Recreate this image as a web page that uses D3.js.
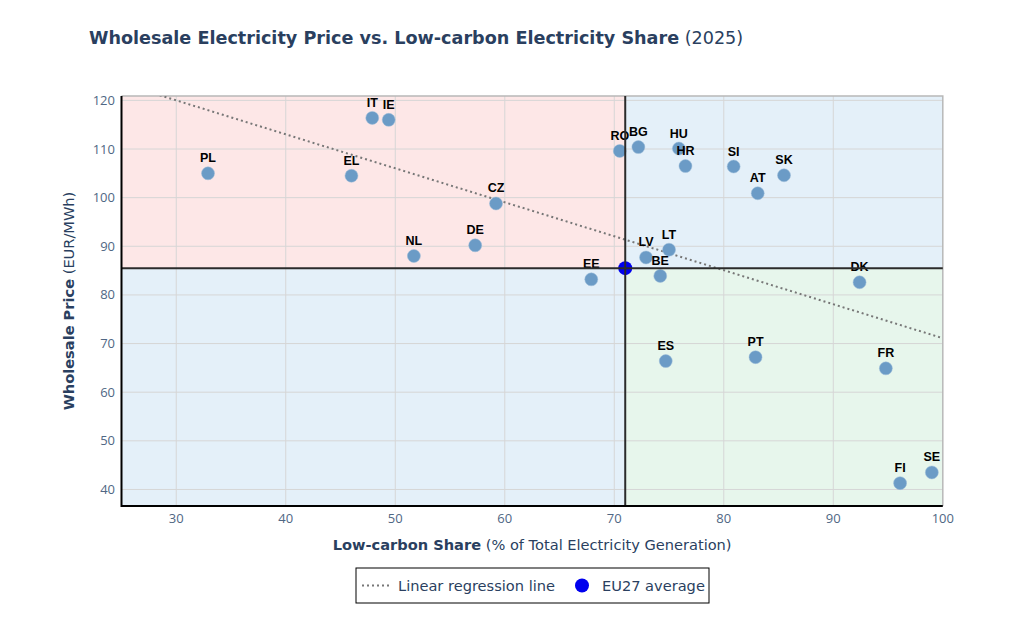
<!DOCTYPE html>
<html>
<head>
<meta charset="utf-8">
<script src="https://cdn.jsdelivr.net/npm/d3@7"></script>
<style>
  body { margin: 0; background: #fff; }
  svg text { font-family: "DejaVu Sans", Verdana, sans-serif; }
</style>
</head>
<body>
<div id="chart"></div>
<script>
// Country codes, low-carbon share (%) and wholesale price (EUR/MWh)
const countries = ["PL", "EL", "IT", "IE", "NL", "DE", "CZ", "EE", "RO", "BG", "HU", "HR", "LV", "LT", "BE",
    "SI", "AT", "SK", "DK", "ES", "PT", "FR", "FI", "SE"];
const lowCarbon = [32.9, 46.0, 47.9, 49.4, 51.7, 57.3, 59.2, 67.9, 70.5, 72.2, 75.9, 76.5, 72.9, 75.0, 74.2,
    80.9, 83.1, 85.5, 92.4, 74.7, 82.9, 94.8, 96.1, 99.0];
const price = [105.0, 104.5, 116.4, 116.0, 88.0, 90.2, 98.8, 83.2, 109.6, 110.4, 110.1, 106.5, 87.7, 89.3, 83.9,
    106.4, 100.9, 104.6, 82.6, 66.4, 67.2, 64.9, 41.3, 43.5];

// EU27 average and regression line endpoints
const euAvg = { x: 71.0, y: 85.5 };
const regLine = [{ x: 25, y: 123.5 }, { x: 100, y: 71.1 }];

const xTicks = [30, 40, 50, 60, 70, 80, 90, 100];
const yTicks = [40, 50, 60, 70, 80, 90, 100, 110, 120];

const W = 1018, H = 624;
const plot = { left: 121.5, right: 942.8, top: 96, bottom: 506 };

const x = d3.scaleLinear().domain([25, 100]).range([plot.left, plot.right]);
const y = d3.scaleLinear().domain([36.6, 120.9]).range([plot.bottom, plot.top]);

const svg = d3.select("#chart").append("svg")
    .attr("width", W)
    .attr("height", H);

// Title
const title = svg.append("text")
    .attr("x", 89)
    .attr("y", 44)
    .style("font-size", "17.6px")
    .style("fill", "#2a3f5f");
title.append("tspan").style("font-weight", "bold").text("Wholesale Electricity Price vs. Low-carbon Electricity Share");
title.append("tspan").text(" (2025)");

svg.append("clipPath").attr("id", "clip")
    .append("rect")
    .attr("x", plot.left).attr("y", plot.top)
    .attr("width", plot.right - plot.left).attr("height", plot.bottom - plot.top);

// Quadrant backgrounds
const quads = [
    { x0: 25, x1: euAvg.x, y0: euAvg.y, y1: 120.9, color: "#fde7e7" },
    { x0: euAvg.x, x1: 100, y0: euAvg.y, y1: 120.9, color: "#e4f0f9" },
    { x0: 25, x1: euAvg.x, y0: 36.6, y1: euAvg.y, color: "#e4f0f9" },
    { x0: euAvg.x, x1: 100, y0: 36.6, y1: euAvg.y, color: "#e7f6ec" }
];
svg.append("g").selectAll("rect")
    .data(quads)
    .enter().append("rect")
    .attr("x", d => x(d.x0))
    .attr("y", d => y(d.y1))
    .attr("width", d => x(d.x1) - x(d.x0))
    .attr("height", d => y(d.y0) - y(d.y1))
    .attr("fill", d => d.color);

// Gridlines
const grid = svg.append("g");
grid.selectAll(".gx").data(xTicks.filter(t => t < 100)).enter().append("line")
    .attr("x1", d => x(d)).attr("x2", d => x(d))
    .attr("y1", plot.top).attr("y2", plot.bottom)
    .attr("stroke", "#d6d6d6").attr("stroke-width", 1);
grid.selectAll(".gy").data(yTicks).enter().append("line")
    .attr("x1", plot.left).attr("x2", plot.right)
    .attr("y1", d => y(d)).attr("y2", d => y(d))
    .attr("stroke", "#d6d6d6").attr("stroke-width", 1);

// Mirror border (top / right)
svg.append("path")
    .attr("d", `M${plot.left},${plot.top}H${plot.right}V${plot.bottom}`)
    .attr("fill", "none")
    .attr("stroke", "#b8b8b8")
    .attr("stroke-width", 1.5);

// Regression line
svg.append("line")
    .attr("clip-path", "url(#clip)")
    .attr("x1", x(regLine[0].x)).attr("y1", y(regLine[0].y))
    .attr("x2", x(regLine[1].x)).attr("y2", y(regLine[1].y))
    .attr("stroke", "#777")
    .attr("stroke-width", 2)
    .attr("stroke-dasharray", "2,3");

// Country points
const pts = countries.map((c, i) => ({ c: c, x: lowCarbon[i], y: price[i] }));
svg.append("g").selectAll("circle")
    .data(pts)
    .enter().append("circle")
    .attr("cx", d => x(d.x))
    .attr("cy", d => y(d.y))
    .attr("r", 6.5)
    .attr("fill", "#6b9bc6")
    .attr("stroke", "#9dbcd9")
    .attr("stroke-width", 0.5);

svg.append("g").selectAll("text")
    .data(pts)
    .enter().append("text")
    .attr("x", d => x(d.x))
    .attr("y", d => y(d.y) - 11)
    .attr("text-anchor", "middle")
    .style("font-family", "'Liberation Sans', Arial, sans-serif")
    .style("font-weight", "bold")
    .style("font-size", "12.5px")
    .style("fill", "#000")
    .text(d => d.c);

// EU27 average marker
svg.append("circle")
    .attr("cx", x(euAvg.x))
    .attr("cy", y(euAvg.y))
    .attr("r", 7)
    .attr("fill", "#0000ee");

// Average cross lines
svg.append("line")
    .attr("x1", x(euAvg.x)).attr("x2", x(euAvg.x))
    .attr("y1", plot.top).attr("y2", plot.bottom)
    .attr("stroke", "#2b2b2b").attr("stroke-width", 2);
svg.append("line")
    .attr("x1", plot.left).attr("x2", plot.right)
    .attr("y1", y(euAvg.y)).attr("y2", y(euAvg.y))
    .attr("stroke", "#2b2b2b").attr("stroke-width", 2);

// Axis lines
svg.append("path")
    .attr("d", `M${plot.left},${plot.top}V${plot.bottom}H${plot.right}`)
    .attr("fill", "none")
    .attr("stroke", "#000")
    .attr("stroke-width", 2);

// Tick labels
svg.append("g").selectAll("text")
    .data(xTicks).enter().append("text")
    .attr("x", d => x(d))
    .attr("y", 523)
    .attr("text-anchor", "middle")
    .style("font-family", "'Open Sans', sans-serif")
    .style("font-size", "13px")
    .style("fill", "#506784")
    .text(d => d);
svg.append("g").selectAll("text")
    .data(yTicks).enter().append("text")
    .attr("x", 115)
    .attr("y", d => y(d) + 4.5)
    .attr("text-anchor", "end")
    .style("font-family", "'Open Sans', sans-serif")
    .style("font-size", "13px")
    .style("fill", "#506784")
    .text(d => d);

// Axis titles
const xt = svg.append("text")
    .attr("x", (plot.left + plot.right) / 2)
    .attr("y", 550)
    .attr("text-anchor", "middle")
    .style("font-size", "14.6px")
    .style("fill", "#2a3f5f");
xt.append("tspan").style("font-weight", "bold").text("Low-carbon Share");
xt.append("tspan").text(" (% of Total Electricity Generation)");

const yt = svg.append("text")
    .attr("transform", `translate(74, ${(plot.top + plot.bottom) / 2}) rotate(-90)`)
    .attr("text-anchor", "middle")
    .style("font-size", "14.6px")
    .style("fill", "#2a3f5f");
yt.append("tspan").style("font-weight", "bold").text("Wholesale Price");
yt.append("tspan").text(" (EUR/MWh)");

// Legend
const lg = svg.append("g").attr("transform", "translate(356, 568)");
lg.append("rect")
    .attr("width", 353).attr("height", 35)
    .attr("fill", "#fff").attr("stroke", "#000").attr("stroke-width", 1);
lg.append("line")
    .attr("x1", 6).attr("x2", 36).attr("y1", 17.5).attr("y2", 17.5)
    .attr("stroke", "#777").attr("stroke-width", 2).attr("stroke-dasharray", "2,3");
lg.append("text")
    .attr("x", 42).attr("y", 22.5)
    .style("font-size", "14.6px").style("fill", "#2a3f5f")
    .text("Linear regression line");
lg.append("circle")
    .attr("cx", 226).attr("cy", 17.5).attr("r", 7)
    .attr("fill", "#0000ee");
lg.append("text")
    .attr("x", 246).attr("y", 22.5)
    .style("font-size", "14.6px").style("fill", "#2a3f5f")
    .text("EU27 average");
</script>
</body>
</html>
